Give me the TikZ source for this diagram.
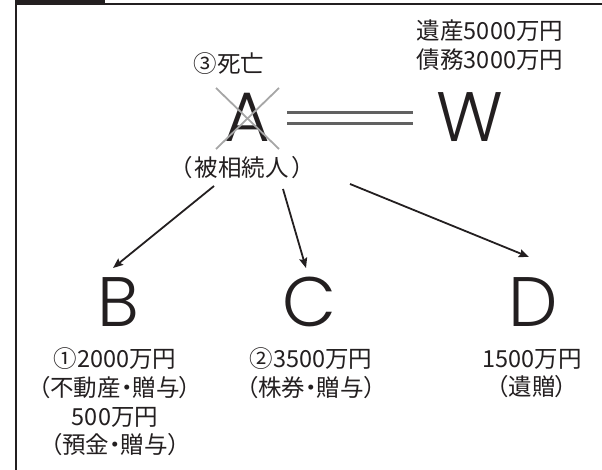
\documentclass[tikz,border=0pt]{standalone}
\usepackage{fontspec}
\setmainfont{Noto Sans CJK JP}[RawFeature=+palt]
\newfontfamily\bigfont{Poppins Light}
\usetikzlibrary{arrows.meta}
\definecolor{ink}{HTML}{231F20}
\begin{document}
\begin{tikzpicture}[x=1pt,y=-1pt,
  jp/.style={inner sep=0pt, text=ink, align=center, font=\fontsize{23.5}{28.7}\selectfont},
  big/.style={inner sep=0pt, text=ink, text height=48pt, text depth=0pt, font=\bigfont\fontsize{70}{70}\selectfont},
  arr/.style={draw=ink, line width=1.8pt, -{Stealth[length=10pt,width=8pt,inset=1.5pt]}},
  crossline/.style={draw=black!35, line width=1.8pt},
  marriage/.style={draw=black!62, line width=2.2pt}]
\useasboundingbox (0,0) rectangle (602,470);
% frame
\fill[ink] (15,0) rectangle (105,4.6);
\draw[ink, line width=1.3pt] (15,4) -- (602,4);
\draw[ink, line width=1.7pt] (16,0) -- (16,470);
% persons
\node[big] (A) at (247,118) {A};
\node[big] (W) at (470,118) {W};
\node[big] (B) at (118,302) {B};
\node[big] (C) at (309,302) {C};
\node[big] (D) at (533,302) {D};
% labels
\node[jp] (death) at (229,64) {③死亡};
\node[jp] (decd) at (242,168) {（\kern3pt 被相続人\kern3pt ）};
\node[jp] (estate) at (490,45) {遺産5000万円\\債務3000万円};
\node[jp] (bl) at (115,402) {①2000万円\\（不動産・贈与）\\500万円\\（預金・贈与）};
\node[jp] (cl) at (311,373.5) {②3500万円\\（株券・贈与）};
\node[jp] (dl) at (532,373.5) {1500万円\\（遺贈）};
% cross over A
\coordinate (x1) at (216,88);
\coordinate (x2) at (279,149);
\coordinate (x3) at (279,88);
\coordinate (x4) at (216,149);
\draw[crossline] (x1) -- (x2);
\draw[crossline] (x3) -- (x4);
% marriage double line
\draw[marriage] ([yshift=-5.5pt,xshift=40pt]A.center) -- ([yshift=-5.5pt,xshift=-57pt]W.center);
\draw[marriage] ([yshift=5.5pt,xshift=40pt]A.center) -- ([yshift=5.5pt,xshift=-57pt]W.center);
% arrows
\coordinate (aB) at (214,186);
\coordinate (tB) at (113,268);
\coordinate (aC) at (283,189);
\coordinate (tC) at (306,268);
\coordinate (aD) at (350,184);
\coordinate (tD) at (529,257);
\draw[arr] (aB) -- (tB);
\draw[arr] (aC) -- (tC);
\draw[arr] (aD) -- (tD);
\end{tikzpicture}
\end{document}
